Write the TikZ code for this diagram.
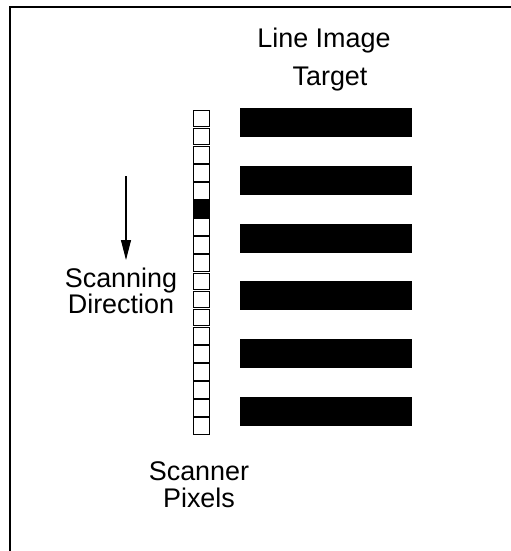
\documentclass[tikz,border=0pt]{standalone}
\usepackage{fontspec}
\setmainfont{Liberation Sans}
\usetikzlibrary{arrows.meta}

\begin{document}
\begin{tikzpicture}[x=0.03cm,y=-0.03cm]
    \tikzstyle{pixel}=[draw,line width=0.9pt,inner sep=0pt,minimum size=0.5cm]
    \tikzstyle{bar}=[fill=black,inner sep=0pt,minimum width=5.16cm,minimum height=0.87cm]
    \tikzstyle{lbl}=[anchor=base,inner sep=0pt,font=\fontsize{23}{27}\selectfont]
    \useasboundingbox (0,0) rectangle (511,551);
    \draw[line width=1.6pt] (10,551) -- (10,7) -- (511,7);
    % target lines and scanner pixels
    \foreach \i in {1,...,6} {\node[bar] at (326,{122.5+57.8*(\i-1)}) (bar\i) {};}
    \foreach \i in {0,...,4,6,7,...,17} {\node[pixel] at (201.5,{118.5+18.1*\i}) (px\i) {};}
    \node[pixel,fill=black] at (201.5,{118.5+18.1*5}) (px5) {};
    % labels
    \node[lbl] at (324,47) (lineimg) {Line Image};
    \node[lbl] at (330,85) (target) {Target};
    \node[lbl] at (121,287) (scanning) {Scanning};
    \node[lbl] at (121,313) (direction) {Direction};
    \node[lbl] at (199,480) (scanner) {Scanner};
    \node[lbl] at (199,507) (pixels) {Pixels};
    \coordinate (scanA) at (126,176);
    \coordinate (scanB) at (126,260);
    \draw[line width=0.9pt,-{Triangle[length=0.6cm,width=0.3cm]}] (scanA) -- (scanB);
\end{tikzpicture}
\end{document}
